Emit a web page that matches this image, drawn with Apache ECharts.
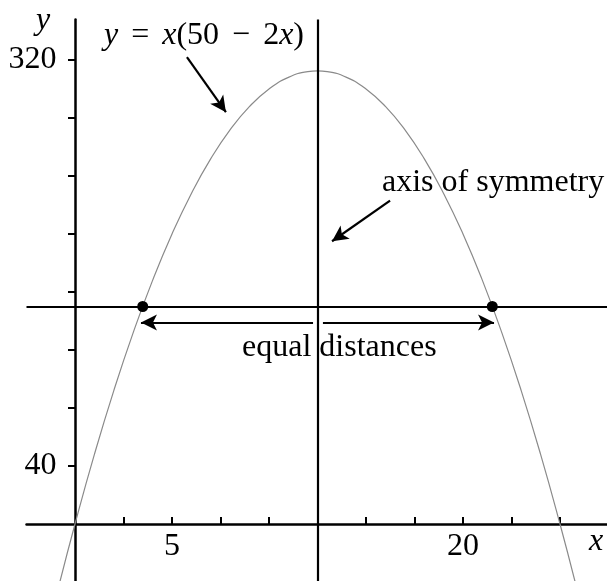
<!DOCTYPE html>
<html>
<head>
<meta charset="utf-8">
<script src="https://cdn.jsdelivr.net/npm/echarts@6/dist/echarts.min.js"></script>
<style>
  html, body { margin: 0; padding: 0; background: #fff; }
  #main { width: 607px; height: 581px; }
</style>
</head>
<body>
<div id="main"></div>
<script>
// curve y = x(50 - 2x)
const curveX = [-0.8, 0, 1, 2, 3, 4, 5, 6, 7, 8, 9, 10, 11, 12, 12.5, 13, 14, 15, 16, 17, 18, 19, 20, 21, 22, 23, 24, 25, 25.8];
const curveY = [-41, 0, 48, 92, 132, 168, 200, 228, 252, 272, 288, 300, 308, 312, 312.5, 312, 308, 300, 288, 272, 252, 228, 200, 168, 132, 92, 48, 0, -41];
const symmetryX = 12.5;
const chordY = 150;
const dotX = [3.49, 21.51];
const xTicks = [2.5, 5, 7.5, 10, 12.5, 15, 17.5, 20, 22.5, 25];
const xLabels = [5, 20];
const yTicks = [40, 80, 120, 160, 200, 240, 280, 320];
const yLabels = [40, 320];
// annotation arrows [from, to] in data coords
const pointerArrows = [
  [[5.77, 322], [7.78, 284]],
  [[16.24, 223], [13.25, 195]]
];
const distArrows = [
  [[12.27, 139], [3.4, 139]],
  [[12.78, 139], [21.6, 139]]
];

const SERIF = '"Liberation Serif", "DejaVu Serif", serif';
const FS = 32;
const chart = echarts.init(document.getElementById('main'));

const toLine = (arr) => arr.map(a => [{ coord: a[0] }, { coord: a[1] }]);

chart.setOption({
  animation: false,
  grid: { left: 26.5, top: 19.4, width: 582, height: 562.6, containLabel: false, outerBoundsMode: 'none' },
  xAxis: {
    type: 'value', min: -2.5, max: 27.5,
    splitLine: { show: false },
    axisLine: { onZero: true, lineStyle: { color: '#000', width: 2.5 } },
    axisTick: { inside: true, length: 7, customValues: xTicks, lineStyle: { color: '#000', width: 2 } },
    // labels sit from the grid edge, not the zero line, so pull them up
    axisLabel: { customValues: xLabels, color: '#000', fontSize: FS, fontFamily: SERIF, margin: -51 }
  },
  yAxis: {
    type: 'value', min: -40, max: 348,
    splitLine: { show: false },
    axisLine: { onZero: true, lineStyle: { color: '#000', width: 2.5 } },
    axisTick: { length: 7, customValues: yTicks, lineStyle: { color: '#000', width: 2 } },
    axisLabel: { customValues: yLabels, color: '#000', fontSize: FS, fontFamily: SERIF, margin: -30 }
  },
  series: [
    {
      type: 'line',
      data: curveX.map((x, i) => [x, curveY[i]]),
      smooth: true,
      showSymbol: false,
      lineStyle: { color: '#8a8a8a', width: 1.2 },
      z: 2
    },
    {
      type: 'line',
      data: [],
      markLine: {
        silent: true,
        symbol: ['none', 'none'],
        label: { show: false },
        lineStyle: { color: '#000', width: 2.2, type: 'solid' },
        data: [{ xAxis: symmetryX }, { yAxis: chordY }]
      },
      z: 3
    },
    {
      type: 'line',
      data: [],
      markLine: {
        silent: true,
        symbol: ['none', 'arrow'],
        symbolSize: [12, 16],
        label: { show: false },
        lineStyle: { color: '#000', width: 2.2, type: 'solid' },
        data: toLine(pointerArrows).concat(toLine(distArrows))
      },
      z: 4
    },
    {
      type: 'scatter',
      data: dotX.map(x => [x, chordY]),
      symbolSize: 11,
      itemStyle: { color: '#000', opacity: 1 },
      z: 5
    }
  ],
  graphic: [
    {
      type: 'text', left: 104, top: 20,
      style: {
        text: '{i|y}{g| }={g| }{i|x}(50{g| }−{g| }2{i|x})',
        font: FS + 'px ' + SERIF, fill: '#000',
        rich: {
          i: { fontStyle: 'italic', fontSize: FS, fontFamily: SERIF },
          g: { width: 13, fontSize: FS, fontFamily: SERIF }
        }
      }
    },
    { type: 'text', left: 382, top: 167, style: { text: 'axis of symmetry', font: FS + 'px ' + SERIF, fill: '#000' } },
    { type: 'text', left: 242, top: 332, style: { text: 'equal distances', font: FS + 'px ' + SERIF, fill: '#000' } },
    { type: 'text', left: 36, top: 5, style: { text: 'y', font: 'italic ' + FS + 'px ' + SERIF, fill: '#000' } },
    { type: 'text', left: 589, top: 526, style: { text: 'x', font: 'italic ' + FS + 'px ' + SERIF, fill: '#000' } }
  ]
});
</script>
</body>
</html>
